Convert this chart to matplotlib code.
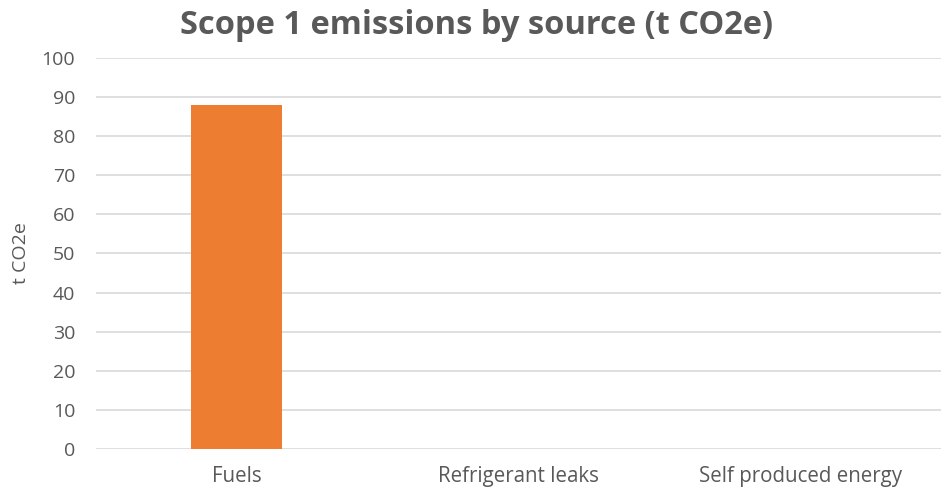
import matplotlib
matplotlib.use("Agg")
import matplotlib.pyplot as plt

categories = ["Fuels", "Refrigerant leaks", "Self produced energy"]
values = [88, 0, 0]
yticks = list(range(0, 101, 10))

plt.rcParams['font.family'] = ['Open Sans', 'DejaVu Sans']

fig = plt.figure(figsize=(9.43, 4.90), dpi=100)
ax = fig.add_axes([96/943, 1-449/490, (941-96)/943, (449-58)/490])

x = list(range(len(categories)))
ax.bar(x, values, width=0.323, color="#ED7D31", zorder=3)
ax.set_xlim(-0.5, len(categories)-0.5)
ax.set_ylim(0, 100)
ax.set_yticks(yticks)
ax.set_xticks(x)
ax.set_xticklabels(categories, fontsize=14.8, color="#595959")
ax.tick_params(axis='y', labelsize=14, colors="#595959", length=0, pad=15)
ax.tick_params(axis='x', length=0, pad=12)
ax.grid(axis='y', color="#d9d9d9", linewidth=1.2, zorder=0)
for s in ax.spines.values():
    s.set_visible(False)
ax.set_ylabel("t CO2e", fontsize=14, color="#595959", labelpad=8)
fig.text(477/943, 1-25/490, "Scope 1 emissions by source (t CO2e)", fontsize=23.5,
         fontweight='bold', color="#595959", ha='center', va='center')
fig.savefig("out.png", dpi=100, facecolor="white")
